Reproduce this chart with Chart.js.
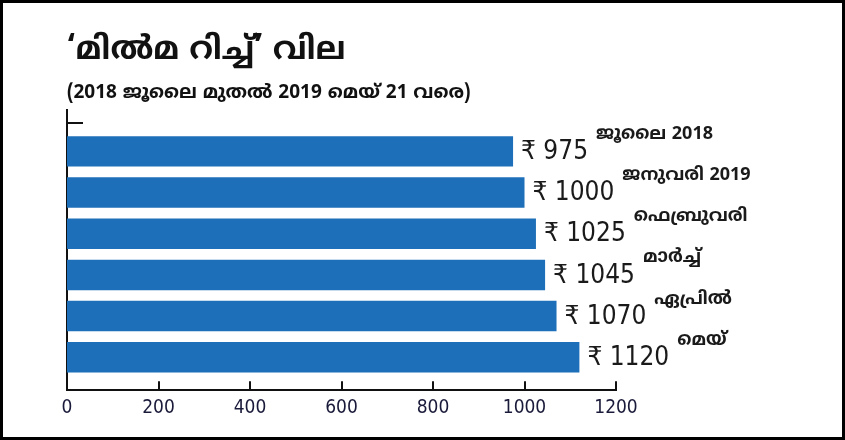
<!DOCTYPE html>
<html>
<head>
<meta charset="utf-8">
<script src="https://cdn.jsdelivr.net/npm/chart.js@4.4.1/dist/chart.umd.min.js"></script>
<style>
body { margin: 0; background: #fff; }
#wrap { position: relative; width: 845px; height: 440px; }
#frame { position: absolute; left: 0; top: 0; width: 845px; height: 440px; box-sizing: border-box; border: 3px solid #000; pointer-events: none; }
</style>
</head>
<body>
<div id="wrap">
  <canvas id="milma" width="845" height="440"></canvas>
  <div id="frame"></div>
</div>
<script>
var months = ["ജൂലൈ 2018", "ജനുവരി 2019", "ഫെബ്രുവരി", "മാർച്ച്", "ഏപ്രിൽ", "മെയ്"];
var prices = [975, 1000, 1025, 1045, 1070, 1120];
var xTicks = [0, 200, 400, 600, 800, 1000, 1200];

var mlFont = "'Noto Sans Malayalam', 'Noto Sans', 'DejaVu Sans', sans-serif";
var numFont = "'Liberation Sans Narrow', 'DejaVu Sans Condensed', sans-serif";

// value + month label at the end of every bar
var barLabels = {
    id: "barLabels",
    afterDatasetsDraw: function(chart) {
        var ctx = chart.ctx;
        var meta = chart.getDatasetMeta(0);
        ctx.save();
        ctx.fillStyle = "#1a1a1a";
        ctx.textAlign = "left";
        ctx.textBaseline = "middle";
        meta.data.forEach(function(bar, i) {
            var txt = "₹ " + prices[i];
            ctx.font = "26px " + numFont;
            var x0 = bar.x + 8;
            ctx.fillText(txt, x0, bar.y + 1);
            var w = ctx.measureText(txt).width;
            ctx.font = "bold 18px " + mlFont;
            ctx.fillText(months[i], x0 + w + 8, bar.y - 16);
        });
        ctx.restore();
    }
};

// tick marks pointing into the plot, like the print version
var innerTicks = {
    id: "innerTicks",
    afterDraw: function(chart) {
        var ctx = chart.ctx, x = chart.scales.x, y = chart.scales.y;
        ctx.save();
        ctx.strokeStyle = "#111";
        ctx.lineWidth = 2;
        ctx.beginPath();
        x.ticks.forEach(function(t) {
            var px = Math.round(x.getPixelForValue(t.value));
            ctx.moveTo(px, x.top);
            ctx.lineTo(px, x.top - 9);
        });
        y.ticks.forEach(function(t) {
            var py = Math.round(y.getPixelForValue(t.value));
            ctx.moveTo(y.right, py);
            ctx.lineTo(y.right + 16, py);
        });
        ctx.stroke();
        ctx.restore();
    }
};

new Chart(document.getElementById("milma"), {
    type: "bar",
    data: {
        datasets: [{
            data: prices.map(function(p, i) { return { x: p, y: i }; }),
            backgroundColor: "#1c6fb8",
            borderWidth: 0,
            categoryPercentage: 1,
            barPercentage: 0.74
        }]
    },
    options: {
        indexAxis: "y",
        responsive: false,
        animation: false,
        layout: { padding: { left: 67, right: 229, top: 10, bottom: 15 } },
        scales: {
            x: {
                type: "linear",
                min: 0,
                max: 1200,
                afterBuildTicks: function(s) { s.ticks = xTicks.map(function(v) { return { value: v }; }); },
                grid: { display: false, drawTicks: false },
                border: { display: true, color: "#111", width: 2 },
                ticks: {
                    padding: 6,
                    color: "#1a1a3a",
                    font: { family: numFont, size: 19 },
                    callback: function(v) { return String(v); }
                }
            },
            y: {
                type: "linear",
                reverse: true,
                offset: false,
                min: -1,
                max: 5.8,
                afterBuildTicks: function(s) { s.ticks = [{ value: -0.68 }]; },
                grid: { display: false, drawTicks: false },
                border: { display: true, color: "#111", width: 2 },
                ticks: { display: false }
            }
        },
        plugins: {
            legend: { display: false },
            tooltip: { enabled: false },
            title: {
                display: true,
                text: "‘മിൽമ റിച്ച്’ വില",
                align: "start",
                color: "#111",
                font: { family: mlFont, size: 32, weight: "bold" },
                padding: { top: 24, bottom: 4 }
            },
            subtitle: {
                display: true,
                text: "(2018 ജൂലൈ മുതൽ 2019 മെയ് 21 വരെ)",
                align: "start",
                color: "#111",
                font: { family: mlFont, size: 19, weight: "bold" },
                padding: { top: 7, bottom: 4 }
            }
        }
    },
    plugins: [barLabels, innerTicks]
});
</script>
</body>
</html>
